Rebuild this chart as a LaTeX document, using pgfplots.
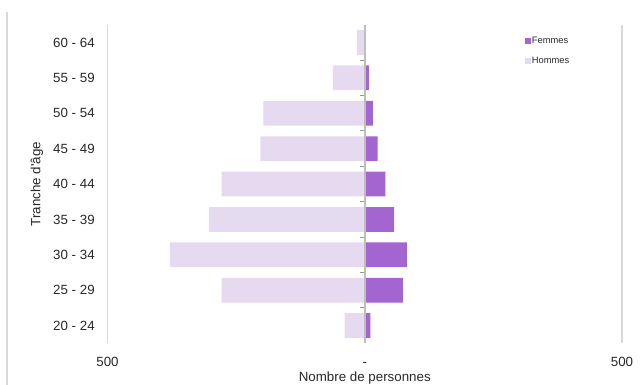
\documentclass[border=0pt]{standalone}
\usepackage{fontspec}
\setmainfont{Liberation Sans}
\usepackage{pgfplots}
\pgfplotsset{compat=1.18}

\definecolor{femmes}{RGB}{163,102,209}
\definecolor{hommes}{RGB}{230,218,241}
\definecolor{gridc}{RGB}{217,217,217}
\definecolor{zeroc}{RGB}{190,190,190}
\definecolor{labelc}{RGB}{40,40,40}

\begin{document}
\begin{tikzpicture}[x=0.75pt,y=0.75pt]
\begin{axis}[
  scale only axis, width=385.9pt, height=238.9pt,
  xmin=-500, xmax=500, ymin=-0.5, ymax=8.5,
  xbar, bar width=0.7, bar shift=0pt,
  xtick={-500,0,500}, xticklabels={500,-,500},
  ytick={0,...,8},
  yticklabels={20 - 24,25 - 29,30 - 34,35 - 39,40 - 44,45 - 49,50 - 54,55 - 59,60 - 64},
  xmajorgrids, major grid style={gridc, line width=1.2pt},
  axis line style={draw=none},
  major tick length=0pt,
  tick label style={font=\fontsize{10}{12}\selectfont, text=labelc},
  xticklabel style={anchor=north, inner sep=0pt, text height=7.2pt, text depth=0pt, yshift=-10.3pt},
  yticklabel style={anchor=east, inner sep=0pt, xshift=-9.4pt},
  label style={font=\fontsize{10}{12}\selectfont, text=labelc},
  xlabel={Nombre de personnes},
  ylabel={Tranche d\textquotesingle âge},
  xlabel style={at={(axis description cs:0.5,-0.11)}, anchor=center},
  ylabel style={at={(axis description cs:-0.137,0.5)}, anchor=center},
  legend style={at={(rel axis cs:0.81,0.967)}, anchor=north west, draw=none, fill=none,
    font=\fontsize{7}{8}\selectfont, text=labelc, inner sep=0pt, row sep=6.5pt,
    nodes={inner sep=1pt}},
  legend cell align=left,
  legend image code/.code={\draw[#1,/tikz/.cd,draw=none] (0pt,-2pt) rectangle (4.5pt,2.5pt);},
]
\coordinate (psw) at (rel axis cs:0,0);
% tick marks of the category axis at x = 0
\pgfplotsinvokeforeach{0.5,1.5,2.5,3.5,4.5,5.5,6.5,7.5}{
  \draw[zeroc!80!black, line width=0.8pt] (axis cs:-10,#1) -- (axis cs:0,#1);
}
\addplot[fill=femmes, draw=none] coordinates {
  (11,0) (74,1) (82,2) (57,3) (40,4) (25,5) (16,6) (8,7) (0,8)};
\addlegendentry{Femmes}
\addplot[fill=hommes, draw=none] coordinates {
  (-39,0) (-278,1) (-379,2) (-303,3) (-278,4) (-203,5) (-197,6) (-62,7) (-15,8)};
\addlegendentry{Hommes}
% vertical axis line at zero, above the bars
\draw[zeroc, line width=1.2pt] (axis cs:0,-0.5) -- (axis cs:0,8.5);
\end{axis}
% chart frame, left edge
\draw[gridc, line width=1pt] ([shift={(-100.5,-41.7)}]psw) -- ++(0,373);
% page area
\pgfresetboundingbox
\path[use as bounding box] ([shift={(-107.5,-41.7)}]psw) rectangle ++(642,385);
\end{tikzpicture}
\end{document}
